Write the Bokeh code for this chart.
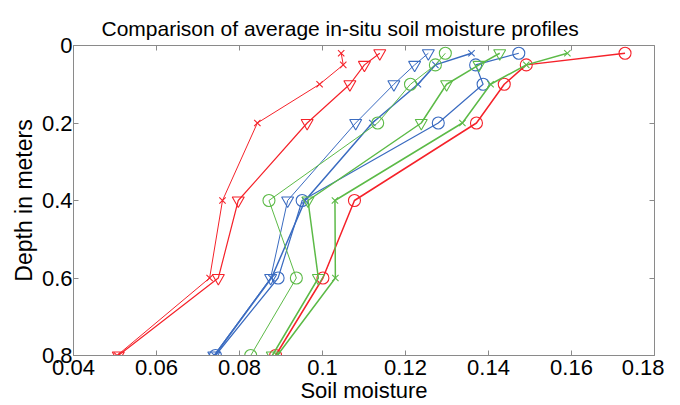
from bokeh.plotting import figure
from bokeh.models import Range1d, FixedTicker, LinearAxis
from bokeh.embed import file_html
from bokeh.resources import INLINE

depths = [0.02, 0.05, 0.1, 0.2, 0.4, 0.6, 0.8]

red_x = [0.1045, 0.1050, 0.0993, 0.0843, 0.0759, 0.0728, 0.0505]
red_tri = [0.1138, 0.1101, 0.1066, 0.0963, 0.0797, 0.0749, 0.0508]
red_o = [0.1729, 0.1491, 0.1438, 0.1371, 0.1077, 0.1001, 0.0887]
blue_tri = [0.1255, 0.1222, 0.1172, 0.1080, 0.0916, 0.0875, 0.0738]
blue_x = [0.1359, 0.1272, 0.1230, 0.1120, 0.0958, 0.0877, 0.0740]
blue_o = [0.1473, 0.1369, 0.1387, 0.1279, 0.0951, 0.0893, 0.0742]
green_tri = [0.1427, 0.1377, 0.1299, 0.1238, 0.0965, 0.0990, 0.0879]
green_o = [0.1296, 0.1272, 0.1212, 0.1133, 0.0871, 0.0937, 0.0827]
green_x = [0.1590, 0.1491, 0.1405, 0.1337, 0.1030, 0.1031, 0.0891]

x_ticks = [0.04, 0.06, 0.08, 0.10, 0.12, 0.14, 0.16, 0.18]
x_tick_labels = ["0.04", "0.06", "0.08", "0.1", "0.12", "0.14", "0.16", "0.18"]
y_ticks = [0.0, 0.2, 0.4, 0.6, 0.8]
y_tick_labels = ["0", "0.2", "0.4", "0.6", "0.8"]
title_text = "Comparison of average in-situ soil moisture profiles"

RED = "#f5222a"
BLUE = "#3a6bc0"
GREEN = "#5cba47"

series = [
    (red_x, RED, "x", 1.0),
    (red_tri, RED, "inverted_triangle", 1.2),
    (red_o, RED, "circle", 1.5),
    (blue_tri, BLUE, "inverted_triangle", 1.0),
    (blue_x, BLUE, "x", 1.5),
    (blue_o, BLUE, "circle", 1.2),
    (green_o, GREEN, "circle", 1.0),
    (green_tri, GREEN, "inverted_triangle", 1.5),
    (green_x, GREEN, "x", 1.5),
]

FONT = "Liberation Sans"
AX = "#8a8a8a"

p = figure(width=664, height=405, output_backend="svg", toolbar_location=None,
           x_range=Range1d(0.04, 0.18), y_range=Range1d(0.8, 0.0),
           title=title_text,
           min_border_left=73, min_border_right=10, min_border_top=45, min_border_bottom=50)

p.title.align = "left"
p.title.offset = 28
p.title.vertical_align = "bottom"
p.title.standoff = 11
p.title.text_font = FONT
p.title.text_font_size = "21px"
p.title.text_font_style = "normal"
p.title.text_color = "black"

p.grid.visible = False
p.outline_line_color = AX

for vals, col, mk, lw in series:
    p.line(vals, depths, line_color=col, line_width=lw)
    size = 9 if mk == "x" else 12
    p.scatter(vals, depths, marker=mk, size=size, line_color=col, fill_color=None, line_width=1.1)

for ax in (p.xaxis[0], p.yaxis[0]):
    ax.axis_line_color = AX
    ax.major_tick_line_color = AX
    ax.major_tick_in = 5
    ax.major_tick_out = 0
    ax.minor_tick_line_color = None
    ax.major_label_text_font = FONT
    ax.major_label_text_font_size = "22px"
    ax.major_label_text_color = "black"
    ax.axis_label_text_font = FONT
    ax.axis_label_text_font_size = "22px"
    ax.axis_label_text_font_style = "normal"
    ax.axis_label_text_color = "black"

p.yaxis[0].axis_label_text_font_size = "23px"
p.xaxis[0].ticker = FixedTicker(ticks=x_ticks)
p.xaxis[0].major_label_overrides = {t: l for t, l in zip(x_ticks, x_tick_labels)}
p.yaxis[0].ticker = FixedTicker(ticks=y_ticks)
p.yaxis[0].major_label_overrides = {t: l for t, l in zip(y_ticks, y_tick_labels)}
p.xaxis[0].axis_label = "Soil moisture"
p.yaxis[0].axis_label = "Depth in meters"
p.xaxis[0].major_label_standoff = 4
p.xaxis[0].axis_label_standoff = 0
p.yaxis[0].major_label_standoff = 1
p.yaxis[0].axis_label_standoff = 2

top = LinearAxis(ticker=FixedTicker(ticks=x_ticks),
                 major_label_overrides={t: "" for t in x_ticks},
                 axis_line_color=None, major_tick_line_color=AX, major_tick_in=5,
                 major_tick_out=0, minor_tick_line_color=None, major_label_standoff=10)
right = LinearAxis(ticker=FixedTicker(ticks=y_ticks),
                   major_label_overrides={t: "" for t in y_ticks},
                   axis_line_color=None, major_tick_line_color=AX, major_tick_in=5,
                   major_tick_out=0, minor_tick_line_color=None, major_label_standoff=0)
p.add_layout(top, "above")
p.add_layout(right, "right")

open("out.html", "w").write(file_html(p, INLINE))
